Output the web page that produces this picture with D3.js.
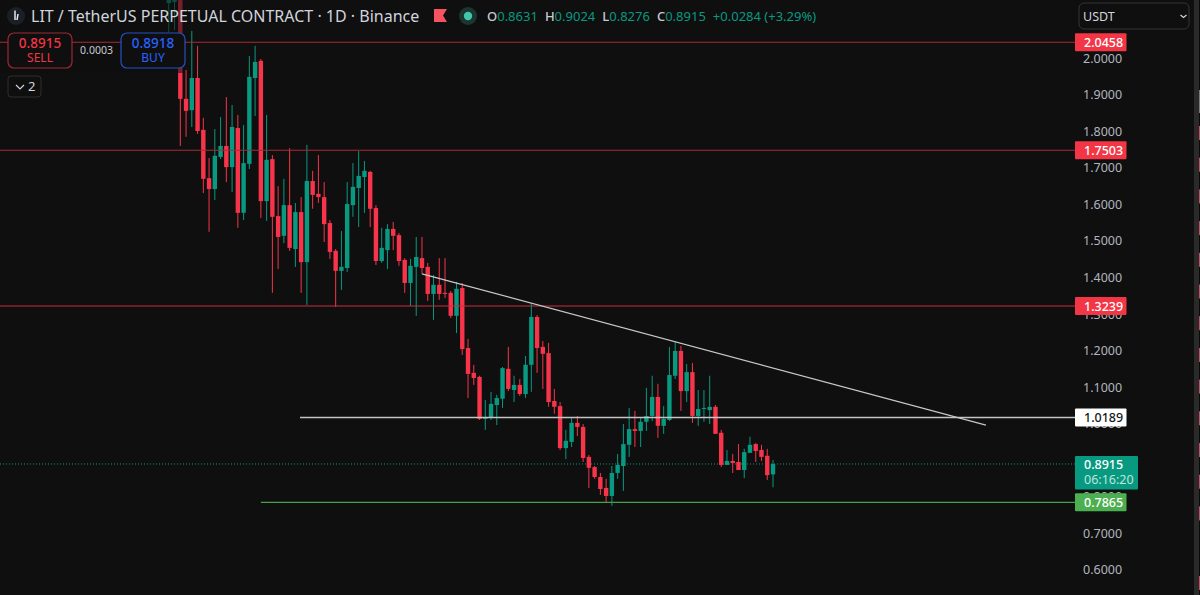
<!DOCTYPE html>
<html>
<head>
<meta charset="utf-8">
<script src="https://cdn.jsdelivr.net/npm/d3@7"></script>
<style>
html, body { margin: 0; padding: 0; background: #0f0f0f; overflow: hidden; }
svg { display: block; }
text { font-family: "Noto Sans", sans-serif; }
</style>
</head>
<body>
<script>
var width = 1200;
var height = 595;

// one entry per day, index -2 is the first candle showing at the top left
var opens = [2.153,2.156,2.189,1.891,1.860,1.948,1.806,1.674,1.644,1.732,1.762,1.704,1.811,1.579,1.713,1.948,1.995,1.611,1.726,1.570,1.516,1.600,1.480,1.581,1.444,1.666,1.631,1.622,1.551,1.475,1.420,1.428,1.600,1.647,1.677,1.691,1.592,1.447,1.477,1.535,1.518,1.450,1.387,1.431,1.455,1.431,1.357,1.382,1.360,1.360,1.297,1.373,1.209,1.141,1.130,1.015,1.018,1.053,1.070,1.152,1.094,1.108,1.083,1.163,1.294,1.212,1.195,1.064,1.050,0.935,0.952,1.004,0.993,0.911,0.883,0.856,0.826,0.804,0.867,0.886,0.944,0.987,0.982,1.007,1.023,1.075,0.996,1.012,1.133,1.201,1.091,1.143,1.023,1.042,1.039,1.048,0.977,0.889,0.900,0.897,0.875,0.922,0.946,0.930,0.914,0.8631];
var highs = [2.203,2.189,2.216,1.970,2.077,2.036,1.839,1.729,1.808,1.841,1.896,1.874,1.847,1.819,2.008,2.036,2.000,1.847,1.737,1.652,1.672,1.756,1.606,1.622,1.765,1.694,1.737,1.663,1.559,1.480,1.529,1.663,1.715,1.748,1.721,1.694,1.600,1.538,1.548,1.554,1.524,1.455,1.453,1.513,1.513,1.442,1.409,1.455,1.455,1.365,1.390,1.387,1.234,1.163,1.133,1.067,1.089,1.081,1.157,1.212,1.133,1.124,1.187,1.332,1.299,1.228,1.223,1.097,1.061,0.985,1.020,1.023,1.001,0.916,0.886,0.867,0.851,0.886,0.919,1.001,1.045,1.037,1.020,1.100,1.133,1.111,1.050,1.212,1.226,1.215,1.165,1.168,1.094,1.094,1.133,1.053,0.985,0.930,0.919,0.946,0.933,0.966,0.949,0.944,0.933,0.9024];
var lows = [2.074,2.079,1.762,1.787,1.814,1.795,1.633,1.527,1.614,1.726,1.663,1.636,1.538,1.559,1.699,1.844,1.565,1.557,1.360,1.425,1.496,1.475,1.431,1.360,1.327,1.590,1.606,1.499,1.453,1.321,1.368,1.417,1.568,1.540,1.579,1.540,1.436,1.442,1.425,1.477,1.434,1.360,1.324,1.297,1.412,1.338,1.286,1.341,1.346,1.291,1.250,1.190,1.072,1.108,1.012,0.985,1.012,0.998,1.045,1.091,1.061,1.078,1.072,1.089,1.141,1.097,1.048,1.029,0.930,0.905,0.938,0.968,0.897,0.826,0.851,0.807,0.785,0.777,0.851,0.818,0.911,0.938,0.938,0.982,1.009,0.963,0.974,1.009,1.124,1.037,1.061,1.004,0.996,1.007,1.001,0.974,0.883,0.889,0.867,0.875,0.853,0.922,0.897,0.900,0.848,0.8276];
var closes = [2.175,2.170,1.891,1.858,1.948,1.803,1.672,1.644,1.735,1.762,1.704,1.814,1.579,1.715,1.951,1.992,1.611,1.724,1.568,1.513,1.600,1.483,1.581,1.444,1.666,1.628,1.622,1.548,1.472,1.420,1.431,1.603,1.650,1.680,1.694,1.590,1.447,1.483,1.535,1.516,1.447,1.387,1.434,1.458,1.428,1.357,1.382,1.357,1.357,1.297,1.371,1.206,1.138,1.127,1.015,1.020,1.056,1.072,1.154,1.097,1.108,1.083,1.163,1.294,1.209,1.193,1.061,1.048,0.935,0.955,1.004,0.993,0.908,0.881,0.856,0.823,0.804,0.867,0.889,0.946,0.987,0.982,1.007,1.023,1.075,0.996,1.015,1.135,1.201,1.091,1.143,1.023,1.042,1.045,1.048,0.974,0.889,0.900,0.894,0.875,0.924,0.944,0.927,0.911,0.861,0.8915];
var firstIndex = -2;

var priceTicks = [2.0,1.9,1.8,1.7,1.6,1.5,1.4,1.3,1.2,1.1,1.0,0.9,0.8,0.7,0.6];

var levelPrices = [2.0458,1.7503,1.3239,1.0189,0.7865];
var levelStarts = [-40,-40,-40,20.8,14];
var levelColors = ["#a92a38","#a92a38","#c92c3e","#c4c4c4","#45a049"];
var levelFills = ["#f23645","#f23645","#f23645","#ffffff","#4caf50"];
var levelText = ["#ffffff","#ffffff","#ffffff","#131722","#ffffff"];

var trendIndex = [42,140];
var trendPrice = [1.412,0.998];

var lastPrice = 0.8915;
var countdown = "06:16:20";
var ohlcLetters = ["O","H","L","C"];
var ohlcValues = ["0.8631","0.9024","0.8276","0.8915"];

var red = "#f7344a";
var green = "#089981";
var bg = "#0f0f0f";

var candles = opens.map(function (d, i) {
    return { i: i + firstIndex, o: d, h: highs[i], l: lows[i], c: closes[i] };
});

var x = d3.scaleLinear().domain([0, 103]).range([180.3, 773]);
var y = d3.scaleLinear().domain([2, 0.6]).range([59, 570.5]);

var svg = d3.select("body").append("svg")
    .attr("width", width)
    .attr("height", height);

svg.append("rect").attr("width", width).attr("height", height).attr("fill", bg);

// price axis
var yAxis = d3.axisRight(y).tickValues(priceTicks).tickFormat(d3.format(".4f")).tickSize(0).tickPadding(0);
var axisG = svg.append("g")
    .attr("transform", "translate(1083,-0.7)")
    .call(yAxis);
axisG.select(".domain").remove();
axisG.selectAll("text").attr("fill", "#b2b5be").style("font-size", "12.5px");

// dotted last price line
svg.append("line")
    .attr("x1", 0).attr("x2", 1075)
    .attr("y1", y(lastPrice)).attr("y2", y(lastPrice))
    .attr("stroke", green).attr("stroke-dasharray", "1 2");

// candles
var bars = svg.append("g").selectAll("g")
    .data(candles)
    .enter().append("g");

bars.append("line")
    .attr("x1", function (d) { return x(d.i); })
    .attr("x2", function (d) { return x(d.i); })
    .attr("y1", function (d) { return y(d.h); })
    .attr("y2", function (d) { return y(d.l); })
    .attr("stroke", function (d) { return d.c >= d.o ? green : red; })
    .attr("stroke-width", 1);

bars.append("rect")
    .attr("x", function (d) { return x(d.i) - 2.2; })
    .attr("width", 4.4)
    .attr("y", function (d) { return y(Math.max(d.o, d.c)); })
    .attr("height", function (d) { return Math.max(1, Math.abs(y(d.o) - y(d.c))); })
    .attr("fill", function (d) { return d.c >= d.o ? green : red; });

// legend area dims what is behind it
svg.append("rect")
    .attr("x", 0).attr("y", 0).attr("width", 185).attr("height", 73)
    .attr("fill", bg).attr("opacity", 0.55);

// horizontal levels
svg.append("g").selectAll("line")
    .data(levelPrices)
    .enter().append("line")
    .attr("x1", function (d, i) { return Math.max(0, x(levelStarts[i])); })
    .attr("x2", 1075)
    .attr("y1", function (d) { return y(d); })
    .attr("y2", function (d) { return y(d); })
    .attr("stroke", function (d, i) { return levelColors[i]; })
    .attr("stroke-width", function (d, i) { return i == 3 ? 1.4 : 1.2; });

// trend line
svg.append("line")
    .attr("x1", x(trendIndex[0])).attr("y1", y(trendPrice[0]))
    .attr("x2", x(trendIndex[1])).attr("y2", y(trendPrice[1]))
    .attr("stroke", "#c8c8c8").attr("stroke-width", 1.2);

// level labels on the axis
var tags = svg.append("g").selectAll("g")
    .data(levelPrices)
    .enter().append("g")
    .attr("transform", function (d) { return "translate(1075," + y(d) + ")"; });

tags.append("rect")
    .attr("x", 0).attr("y", -9).attr("width", 51.5).attr("height", 18).attr("rx", 1)
    .attr("fill", function (d, i) { return levelFills[i]; });

tags.append("text")
    .attr("x", 9).attr("y", 4.5)
    .attr("fill", function (d, i) { return levelText[i]; })
    .style("font-size", "12.5px")
    .style("font-weight", 500)
    .text(function (d) { return d.toFixed(4); });

// last price tag with countdown
var lastTag = svg.append("g").attr("transform", "translate(1075," + (y(lastPrice) - 8) + ")");
lastTag.append("rect").attr("width", 63).attr("height", 33.5).attr("rx", 1).attr("fill", green);
lastTag.append("text").attr("x", 9).attr("y", 13).attr("fill", "#ffffff").style("font-size", "12.5px").style("font-weight", 500).text(lastPrice.toFixed(4));
lastTag.append("text").attr("x", 9).attr("y", 28).attr("fill", "#bfe5dd").style("font-size", "12.5px").text(countdown);

// title row
svg.append("circle").attr("cx", 16).attr("cy", 16).attr("r", 9).attr("fill", "#1b1f27");
svg.append("path").attr("d", "M15 10.5V20M18 14L17 20").attr("fill", "none").attr("stroke", "#e8e8e8").attr("stroke-width", 1.5);
svg.append("text").attr("x", 31).attr("y", 22)
    .attr("fill", "#d1d4dc")
    .style("font-size", "16px")
    .text("LIT / TetherUS PERPETUAL CONTRACT · 1D · Binance");

svg.append("path").attr("d", "M434 9H447L443 15.5L447 22H434Z").attr("fill", "#f7525f");
svg.append("circle").attr("cx", 468).attr("cy", 16).attr("r", 9).attr("fill", "#1b3531");
svg.append("circle").attr("cx", 468).attr("cy", 16).attr("r", 4.2).attr("fill", "#42c6a8");

var ohlc = svg.append("text").attr("x", 487).attr("y", 21).style("font-size", "13px");
ohlcLetters.forEach(function (k, i) {
    ohlc.append("tspan").attr("fill", "#c8cad0").attr("dx", i ? 7 : 0).style("font-weight", 500).text(k);
    ohlc.append("tspan").attr("fill", green).text(ohlcValues[i]);
});
ohlc.append("tspan").attr("fill", green).attr("dx", 7).text("+0.0284 (+3.29%)");

// sell / buy buttons
function tradeBox(bx, stroke, color, price, label) {
    svg.append("rect").attr("x", bx + 0.5).attr("y", 33).attr("width", 64).attr("height", 35).attr("rx", 6)
        .attr("fill", bg).attr("stroke", stroke).attr("stroke-width", 1.2);
    svg.append("text").attr("x", bx + 32.5).attr("y", 48).attr("text-anchor", "middle").attr("fill", color)
        .style("font-size", "13.5px").style("font-weight", 500).text(price);
    svg.append("text").attr("x", bx + 32.5).attr("y", 62).attr("text-anchor", "middle").attr("fill", color)
        .style("font-size", "12px").text(label);
}
tradeBox(7.5, "#9c2a38", "#f23645", "0.8915", "SELL");
tradeBox(120.5, "#2350c4", "#2962ff", "0.8918", "BUY");
svg.append("text").attr("x", 96.5).attr("y", 54).attr("text-anchor", "middle").attr("fill", "#c8cad0")
    .style("font-size", "10.5px").text("0.0003");

// collapse button
svg.append("rect").attr("x", 8).attr("y", 76).attr("width", 33).attr("height", 21).attr("rx", 3)
    .attr("fill", bg).attr("stroke", "#2e2e2e");
svg.append("path").attr("d", "M16 85L20 89L24 85").attr("fill", "none").attr("stroke", "#d1d4dc").attr("stroke-width", 1.2);
svg.append("text").attr("x", 28).attr("y", 91).attr("fill", "#d1d4dc").style("font-size", "13px").text("2");

// currency select
svg.append("rect").attr("x", 1079).attr("y", 3).attr("width", 110).attr("height", 26).attr("rx", 5)
    .attr("fill", bg).attr("stroke", "#353535");
svg.append("text").attr("x", 1083).attr("y", 21).attr("fill", "#d1d4dc").style("font-size", "12.5px").text("USDT");
svg.append("path").attr("d", "M1180.5 15L1183.5 17.5L1186.5 15").attr("fill", "none").attr("stroke", "#d1d4dc").attr("stroke-width", 1.2);

// strip at the right edge of the window, with the next panel's marks peeking in
svg.append("rect").attr("x", 1194).attr("y", 0).attr("width", 5).attr("height", height).attr("fill", "#2a2a2a");
svg.append("rect").attr("x", 1199).attr("y", 0).attr("width", 1).attr("height", height).attr("fill", "#0a0a0a");
svg.append("rect").attr("x", 1199).attr("y", 90).attr("width", 1).attr("height", 23).attr("fill", "#7a7a7a");
d3.range(126, 520, 31.7).concat([576]).forEach(function (py) {
    svg.append("rect").attr("x", 1199).attr("y", py).attr("width", 1).attr("height", 14).attr("fill", "#c0505f");
});
</script>
</body>
</html>
